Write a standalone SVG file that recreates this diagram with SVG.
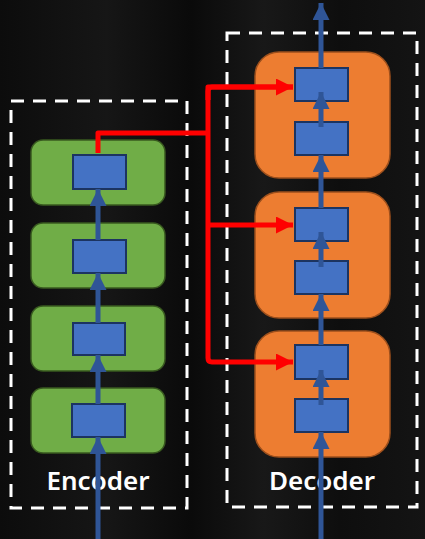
<svg xmlns="http://www.w3.org/2000/svg" width="425" height="539" viewBox="0 0 425 539">
<style>
.dash{fill:none;stroke:#ffffff;stroke-width:3;stroke-dasharray:13 9}
.enc{fill:#70ad47;stroke:#38591f;stroke-width:1.5}
.dec{fill:#ed7d31;stroke:#9c4f1c;stroke-width:1.5}
.inner{fill:#4472c4;stroke:#1c3461;stroke-width:2}
.blue{stroke:#2f5597;stroke-width:5;fill:none}
.red{stroke:#ff0000;stroke-width:5;fill:none;stroke-linejoin:round}
.lbl{font-family:"Noto Sans","Open Sans","Liberation Sans",sans-serif;font-size:26px;font-weight:600;fill:#ffffff;text-anchor:middle}
</style>
<defs>
<linearGradient id="bg" x1="0" y1="0" x2="1" y2="0">
<stop offset="0" stop-color="#0c0c0c"/>
<stop offset="0.25" stop-color="#161616"/>
<stop offset="0.45" stop-color="#0a0a0a"/>
<stop offset="0.62" stop-color="#181818"/>
<stop offset="0.8" stop-color="#0e0e0e"/>
<stop offset="1" stop-color="#141414"/>
</linearGradient>
<marker id="ab" viewBox="0 0 10 10" refX="10" refY="5" markerWidth="3.4" markerHeight="3.4" orient="auto" markerUnits="strokeWidth">
<path d="M0,0 L10,5 L0,10 Z" fill="#2f5597"/>
</marker>
<marker id="ar" viewBox="0 0 10 10" refX="10" refY="5" markerWidth="3.4" markerHeight="3.4" orient="auto" markerUnits="strokeWidth">
<path d="M0,0 L10,5 L0,10 Z" fill="#ff0000"/>
</marker>
</defs>
<rect width="425" height="539" fill="url(#bg)"/>
<rect class="dash" x="11" y="101" width="176" height="407"/>
<rect class="dash" x="227" y="33" width="190" height="474"/>
<g id="enc1"><rect class="enc" x="31" y="140" width="134" height="65" rx="12"/><rect class="inner" x="73" y="155" width="53" height="34"/></g>
<g id="enc2"><rect class="enc" x="31" y="223" width="134" height="65" rx="12"/><rect class="inner" x="73" y="240" width="53" height="33"/></g>
<g id="enc3"><rect class="enc" x="31" y="306" width="134" height="65" rx="12"/><rect class="inner" x="73" y="323" width="52" height="32"/></g>
<g id="enc4"><rect class="enc" x="31" y="388" width="134" height="65" rx="12"/><rect class="inner" x="72" y="404" width="53" height="33"/></g>
<g id="dec1"><rect class="dec" x="255" y="52" width="135" height="126" rx="24"/><rect class="inner" x="295" y="68" width="53" height="33"/><rect class="inner" x="295" y="122" width="53" height="33"/></g>
<g id="dec2"><rect class="dec" x="255" y="192" width="135" height="126" rx="24"/><rect class="inner" x="295" y="208" width="53" height="33"/><rect class="inner" x="295" y="261" width="53" height="33"/></g>
<g id="dec3"><rect class="dec" x="255" y="331" width="135" height="126" rx="24"/><rect class="inner" x="295" y="345" width="53" height="34"/><rect class="inner" x="295" y="399" width="53" height="33"/></g>
<g id="labels">
<text class="lbl" x="98" y="490">Encoder</text>
<text class="lbl" x="322" y="490">Decoder</text>
</g>
<g id="connectors">
<line class="blue" x1="98" y1="539" x2="98" y2="437" marker-end="url(#ab)"/>
<line class="blue" x1="98" y1="404" x2="98" y2="355" marker-end="url(#ab)"/>
<line class="blue" x1="98" y1="323" x2="98" y2="273" marker-end="url(#ab)"/>
<line class="blue" x1="98" y1="240" x2="98" y2="189" marker-end="url(#ab)"/>
<line class="blue" x1="321" y1="539" x2="321" y2="432" marker-end="url(#ab)"/>
<line class="blue" x1="321" y1="405" x2="321" y2="370" marker-end="url(#ab)"/>
<line class="blue" x1="321" y1="345" x2="321" y2="294" marker-end="url(#ab)"/>
<line class="blue" x1="321" y1="267" x2="321" y2="232" marker-end="url(#ab)"/>
<line class="blue" x1="321" y1="208" x2="321" y2="155" marker-end="url(#ab)"/>
<line class="blue" x1="321" y1="127" x2="321" y2="92" marker-end="url(#ab)"/>
<line class="blue" x1="321" y1="68" x2="321" y2="3" marker-end="url(#ab)"/>
<path class="red" d="M98,153 V133 H208"/>
<path class="red" d="M293,87 H212 Q208,87 208,91 V358 Q208,362 212,362 H293" marker-end="url(#ar)"/>
<path class="red" d="M208,100 V87 H293" marker-end="url(#ar)"/>
<path class="red" d="M208,225 H293" marker-end="url(#ar)"/>
</g>
</svg>
